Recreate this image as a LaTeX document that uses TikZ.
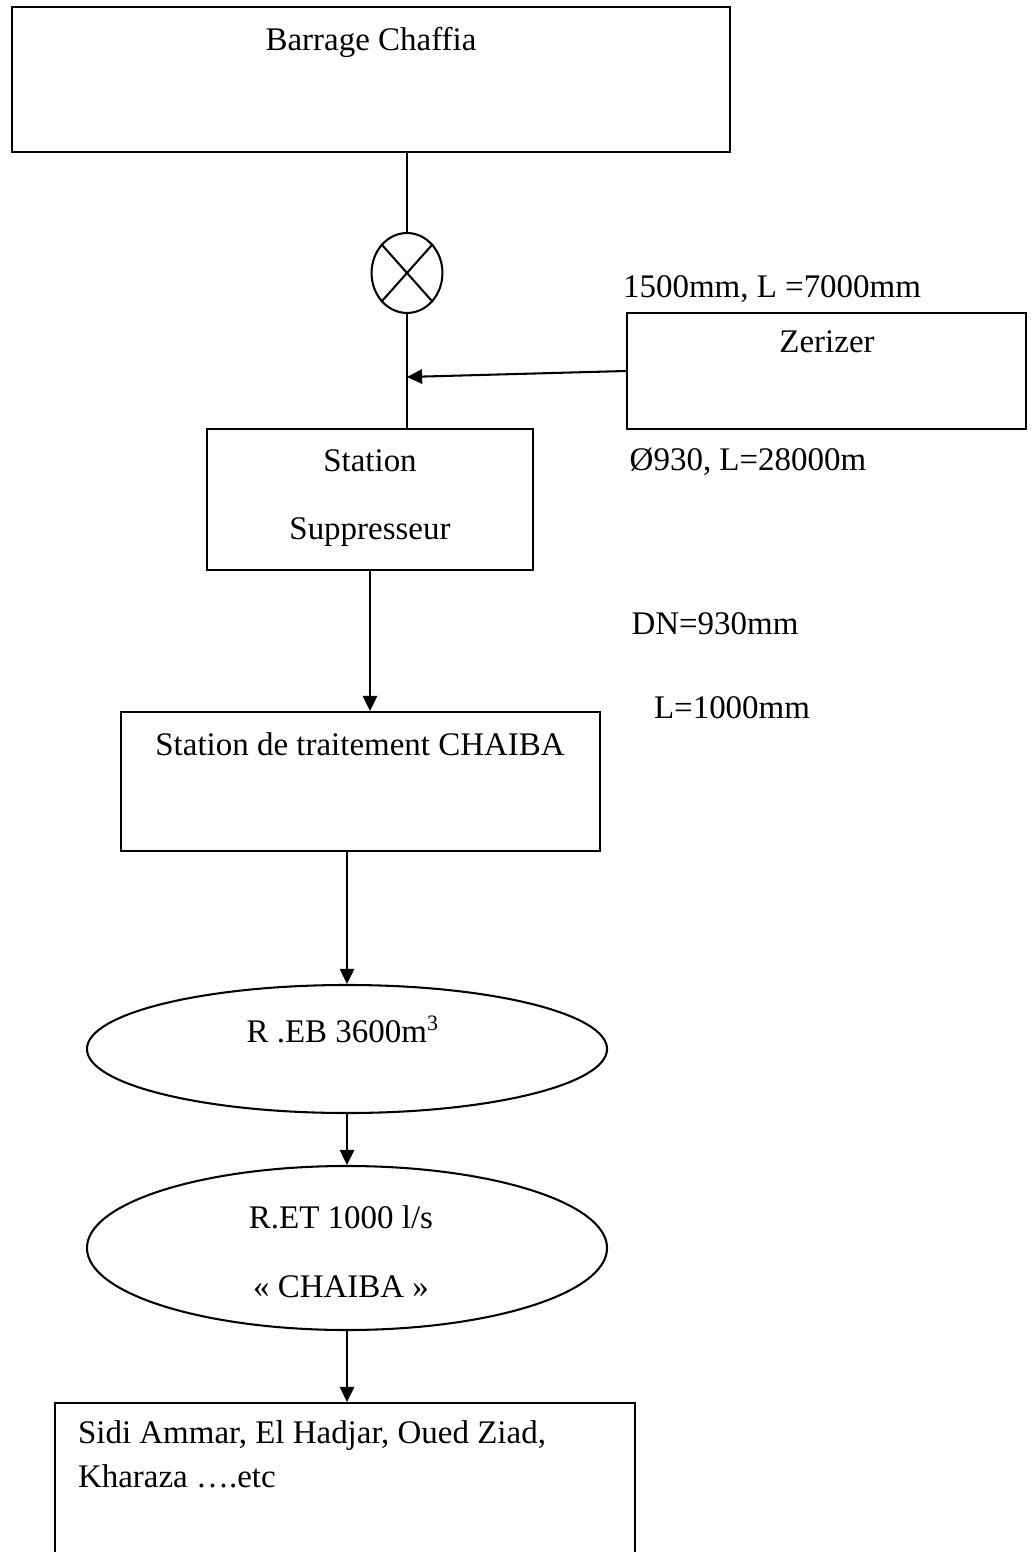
\documentclass[tikz,border=0pt]{standalone}
\usepackage{fontspec}
\setmainfont{Liberation Serif}
\usetikzlibrary{shapes.geometric,arrows.meta,positioning}
\tikzset{
  boite/.style={draw,rectangle,inner sep=0pt},
  bulle/.style={draw,ellipse,inner sep=0pt},
  texte/.style={inner sep=0pt,anchor=base},
  deux/.style={texte,align=center,font={\fontsize{12pt}{25pt}\selectfont}},
}
\begin{document}
\begin{tikzpicture}[x=0.364pt,y=0.364pt,line width=0.75pt,>={Triangle[length=5.5pt,width=5.2pt]},font=\fontsize{12pt}{14.4pt}\selectfont]
	\useasboundingbox (0,0) rectangle (1034,-1552);
	\clip (0,0) rectangle (1034,-1552);
	% barrage et vanne
	\node[boite,minimum width=261.4pt,minimum height=52.8pt] (barrage) at (371,-79.5) {};
	\node[texte] (barrage-txt) at (371,-51) {Barrage Chaffia};
	\node[bulle,minimum width=25.8pt,minimum height=29.1pt] (vanne) at (407,-273) {};
	\draw (vanne.north west) -- (vanne.south east) (vanne.north east) -- (vanne.south west);
	% station suppresseur
	\node[boite,minimum width=118.7pt,minimum height=51.3pt] (station) at (370,-499.5) {};
	\node[deux] (station-txt) at (370,-540) {Station\\Suppresseur};
	% zerizer
	\node[boite,minimum width=145.2pt,minimum height=42.2pt] (zerizer) at (826.5,-371) {};
	\node[texte] (zerizer-txt) at (827,-353) {Zerizer};
	\node[texte] (zerizer-haut) at (772,-298) {1500mm, L =7000mm};
	\node[texte] (zerizer-bas) at (748,-471) {Ø930, L=28000m};
	\node[texte] (dn) at (715,-635) {DN=930mm};
	\node[texte] (longueur) at (732,-718) {L=1000mm};
	% traitement et reservoirs
	\node[boite,minimum width=174.4pt,minimum height=50.6pt] (chaiba) at (360.5,-781.5) {};
	\node[texte] (chaiba-txt) at (360,-755) {Station de traitement CHAIBA};
	\node[bulle,minimum width=189.3pt,minimum height=46.6pt] (reb) at (347,-1049) {};
	\node[texte] (reb-txt) at (343,-1042) {R .EB 3600m\textsuperscript{3}};
	\node[bulle,minimum width=189.3pt,minimum height=59.7pt] (ret) at (347,-1248) {};
	\node[deux] (ret-txt) at (341,-1297) {R.ET 1000 l/s\\« CHAIBA »};
	\node[boite,minimum width=211.1pt,minimum height=79pt] (villes) at (345,-1511.5) {};
	\node[inner sep=0pt,anchor=base west,align=left,font={\fontsize{12pt}{16pt}\selectfont}] (villes-txt) at (77,-1487) {Sidi Ammar, El Hadjar, Oued Ziad,\\Kharaza ….etc};
	% conduites
	\coordinate (jonction) at (407,-377);
	\draw (vanne.north) -- (vanne.north |- barrage.south);
	\draw (vanne.south) -- (vanne.south |- station.north);
	\draw[->] (zerizer.west) -- (jonction);
	\draw[->] (station.south) -- (station.south |- chaiba.north);
	\draw[->] (reb.north |- chaiba.south) -- (reb.north);
	\draw[->] (reb.south) -- (ret.north);
	\draw[->] (ret.south) -- (ret.south |- villes.north);
\end{tikzpicture}
\end{document}
